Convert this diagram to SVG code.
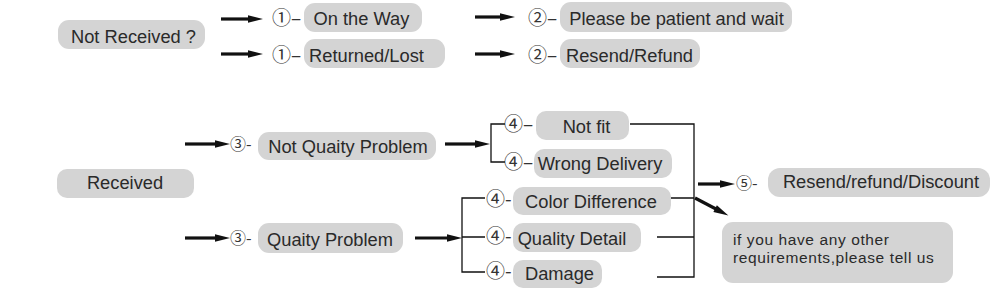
<svg xmlns="http://www.w3.org/2000/svg" width="998" height="299" viewBox="0 0 998 299">
<defs>
<marker id="ah" markerUnits="userSpaceOnUse" markerWidth="16" markerHeight="10" refX="1" refY="5" orient="auto" overflow="visible">
<path d="M0,1.2 L15,5 L0,8.8 Z" fill="#111"/>
</marker>
<style>
.box{fill:#d4d4d4}
.t{font-family:"Liberation Sans",Arial,sans-serif;font-size:18.3px;fill:#2a2a2a;text-anchor:middle}
.s{font-family:"Liberation Sans",Arial,sans-serif;font-size:15.5px;letter-spacing:0.6px;fill:#2a2a2a}
.n{font-family:"Noto Sans CJK JP","Noto Sans CJK SC",sans-serif;font-size:19px;fill:#333}
.n2{font-family:"Noto Sans CJK JP","Noto Sans CJK SC",sans-serif;font-size:16px;fill:#333}
.ar{stroke:#111;stroke-width:3.2;fill:none;marker-end:url(#ah)}
.ln{stroke:#111;stroke-width:1.3;fill:none}
</style>
</defs>
<g id="connectors">
<line class="ar" x1="221" y1="19" x2="249" y2="19"/>
<line class="ar" x1="221" y1="54" x2="249" y2="54"/>
<line class="ar" x1="475" y1="17" x2="501" y2="17"/>
<line class="ar" x1="475" y1="54" x2="501" y2="54"/>
<line class="ar" x1="185" y1="144" x2="216" y2="144"/>
<line class="ar" x1="445" y1="144" x2="476" y2="144"/>
<line class="ar" x1="185" y1="238" x2="216" y2="238"/>
<line class="ar" x1="415" y1="238" x2="448" y2="238"/>
<line class="ar" x1="698" y1="184" x2="721" y2="184"/>
<line class="ar" x1="695" y1="198" x2="716" y2="209"/>
<path class="ln" d="M505,124 H491 V162 H505"/>
<path class="ln" d="M485,198 H462 V272 H485 M462,237 H485"/>
<path class="ln" d="M630,124 H694 V277 H657 M671,198 H694 M657,237 H694"/>
</g>
<g id="not-received"><rect class="box" x="58" y="20" width="147" height="29" rx="11"/><text class="t" x="133.5" y="43">Not Received ?</text></g>
<g id="on-the-way"><text class="n" x="272" y="25">①–</text><rect class="box" x="304" y="3" width="118" height="29" rx="11"/><text class="t" x="361.5" y="25">On the Way</text></g>
<g id="returned-lost"><text class="n" x="272" y="62">①–</text><rect class="box" x="304" y="39" width="141" height="29" rx="11"/><text class="t" x="366.5" y="62">Returned/Lost</text></g>
<g id="please-wait"><text class="n" x="528" y="25">②–</text><rect class="box" x="560" y="2" width="232" height="30" rx="11"/><text class="t" x="676.5" y="25">Please be patient and wait</text></g>
<g id="resend-refund"><text class="n" x="528" y="62">②–</text><rect class="box" x="560" y="39" width="140" height="29" rx="11"/><text class="t" x="629.5" y="62">Resend/Refund</text></g>
<g id="received"><rect class="box" x="57" y="169" width="137" height="29" rx="10"/><text class="t" x="125" y="189">Received</text></g>
<g id="not-quality"><text class="n2" x="230" y="150">③-</text><rect class="box" x="258" y="132" width="178" height="28" rx="11"/><text class="t" x="348" y="153">Not Quaity Problem</text></g>
<g id="quality"><text class="n2" x="230" y="244">③-</text><rect class="box" x="258" y="223" width="145" height="30" rx="11"/><text class="t" x="330" y="246">Quaity Problem</text></g>
<g id="not-fit"><text class="n" x="504" y="131">④–</text><rect class="box" x="536" y="111" width="93" height="29" rx="10"/><text class="t" x="586.5" y="133">Not fit</text></g>
<g id="wrong-delivery"><text class="n" x="504" y="169">④–</text><rect class="box" x="534" y="149" width="138" height="29" rx="10"/><text class="t" x="600" y="170">Wrong Delivery</text></g>
<g id="color-difference"><text class="n" x="486" y="206">④-</text><rect class="box" x="513" y="187" width="158" height="28" rx="10"/><text class="t" x="591" y="208">Color Difference</text></g>
<g id="quality-detail"><text class="n" x="486" y="243">④-</text><rect class="box" x="513" y="223" width="128" height="29" rx="10"/><text class="t" x="572" y="245">Quality Detail</text></g>
<g id="damage"><text class="n" x="486" y="278">④-</text><rect class="box" x="513" y="260" width="89" height="28" rx="10"/><text class="t" x="559.5" y="280">Damage</text></g>
<g id="resend-discount"><text class="n2" x="736" y="189">⑤-</text><rect class="box" x="768" y="168" width="222" height="29" rx="12"/><text class="t" x="881" y="188">Resend/refund/Discount</text></g>
<g id="other-requirements"><rect class="box" x="722" y="222" width="231" height="61" rx="11"/><text class="s" x="733" y="245">if you have any other</text><text class="s" x="733" y="263">requirements,please tell us</text></g>
</svg>
